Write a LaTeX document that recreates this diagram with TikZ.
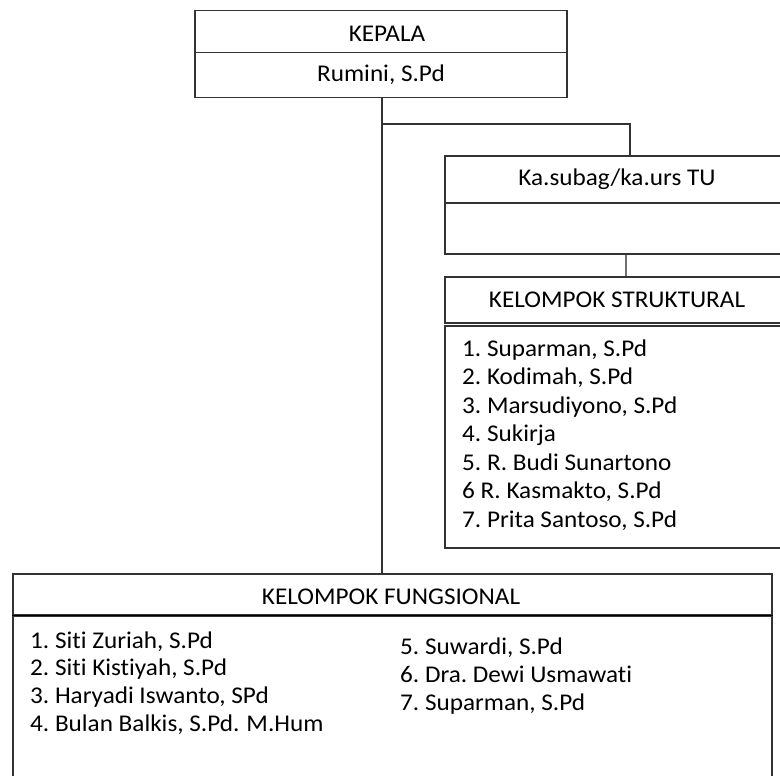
\documentclass[tikz,border=0pt]{standalone}
\usepackage{fontspec}
\usetikzlibrary{calc}
\setmainfont{Carlito}[FakeStretch=1.05, Ligatures=NoCommon]
\frenchspacing
\definecolor{boxc}{HTML}{333333}
\definecolor{linkc}{HTML}{707070}
\definecolor{txtc}{HTML}{000000}
\begin{document}
\begin{tikzpicture}[x=1pt,y=-1pt,
  box/.style={draw=boxc, line width=1.5pt, rectangle, inner sep=0pt, anchor=north west},
  txt/.style={inner sep=0pt, text=txtc, font=\fontsize{24pt}{28pt}\selectfont},
  conn/.style={draw=boxc, line width=1.5pt},
  softconn/.style={draw=linkc, line width=2.6pt}]
\useasboundingbox (0,0) rectangle (780,776);
\clip (0,0) rectangle (780,776);
\fill[white] (0,0) rectangle (780,776);
% boxes
\node[box, minimum width=372pt, minimum height=42pt] (kepT) at (194,10) {};
\node[box, minimum width=372pt, minimum height=45pt] (kepB) at (194,52) {};
\node[box, minimum width=350pt, minimum height=47pt] (tuT) at (444,155) {};
\node[box, minimum width=350pt, minimum height=51pt] (tuB) at (444,202) {};
\node[box, minimum width=350pt, minimum height=46pt] (strT) at (444,276) {};
\node[box, minimum width=350pt, minimum height=222pt] (strL) at (444,325) {};
\node[box, minimum width=759pt, minimum height=41pt] (fungT) at (12,573) {};
\node[box, minimum width=759pt, minimum height=190pt] (fungL) at (12,615) {};
\draw[black, line width=1.8pt] (fungT.south west) -- (fungT.south east);
% connectors
\coordinate (tap) at (382,124);
\coordinate (tuIn) at ($(tuT.north west)+(186,0)$);
\coordinate (tuOut) at ($(tuB.south west)+(182,0)$);
\draw[conn] (kepB.south -| tap) -- (fungT.north -| tap);
\draw[conn] (tap) -| (tuIn);
\draw[softconn] (tuOut) -- (strT.north -| tuOut);
% titles
\node[txt, anchor=base] (kepLbl) at (387,42) {KEPALA};
\node[txt, anchor=base] (kepName) at (381,82) {Rumini, S.Pd};
\node[txt, anchor=base] (tuLbl) at (617,185) {Ka.subag/ka.urs TU};
\node[txt, anchor=base] (strLbl) at (617,307) {KELOMPOK STRUKTURAL};
\node[txt, anchor=base] (fungLbl) at (391,604) {KELOMPOK FUNGSIONAL};
% struktural list
\foreach \t [count=\i] in {1. Suparman{,} S.Pd, 2. Kodimah{,} S.Pd, 3. Marsudiyono{,} S.Pd, 4. Sukirja, 5. R. Budi Sunartono, 6 R. Kasmakto{,} S.Pd, 7. Prita Santoso{,} S.Pd}
  \node[txt, anchor=base west] (s\i) at (462,{356+28.5*(\i-1)}) {\t};
% fungsional lists
\foreach \t [count=\i] in {1. Siti Zuriah{,} S.Pd, 2. Siti Kistiyah{,} S.Pd, 3. Haryadi Iswanto{,} SPd, 4. Bulan Balkis{,} S.Pd.\hspace{7pt}M.Hum}
  \node[txt, anchor=base west] (fl\i) at (30,{648+27.7*(\i-1)}) {\t};
\foreach \t [count=\i] in {5. Suwardi{,} S.Pd, 6. Dra. Dewi Usmawati, 7. Suparman{,} S.Pd}
  \node[txt, anchor=base west] (fr\i) at (400,{654+28*(\i-1)}) {\t};
\end{tikzpicture}
\end{document}
